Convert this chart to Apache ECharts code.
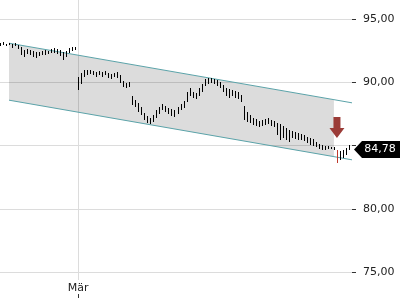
<!DOCTYPE html>
<html><head><meta charset="utf-8">
<script src="https://cdn.jsdelivr.net/npm/echarts@6/dist/echarts.min.js"></script>
<style>html,body{margin:0;padding:0;background:#fff}#c{width:400px;height:300px}</style>
</head><body><div id="c"></div><script>
// bar highs and lows, one bar per slot
const highs = [93.10,93.18,93.03,93.10,93.03,93.10,92.95,92.79,92.55,92.63,
  92.55,92.47,92.39,92.39,92.47,92.55,92.47,92.63,92.71,92.63,
  92.55,92.39,92.47,92.71,92.79,92.79,90.42,90.74,90.97,90.97,
  90.97,90.89,90.82,90.89,90.82,90.89,90.74,90.66,90.74,90.82,
  90.58,90.10,89.95,90.03,88.92,88.60,88.37,88.05,87.58,87.34,
  87.18,87.42,87.81,88.05,88.29,88.13,87.97,87.89,87.81,88.05,
  88.29,88.53,89.24,89.55,89.24,89.16,89.55,89.87,90.26,90.34,
  90.34,90.26,90.18,90.03,89.79,89.55,89.47,89.39,89.32,89.24,
  89.00,88.13,87.66,87.42,87.18,87.10,86.95,87.03,87.10,87.18,
  87.03,86.95,86.79,86.71,86.55,86.39,86.24,86.16,86.08,86.00,
  85.92,85.84,85.68,85.60,85.53,85.29,85.13,85.05,84.97,84.97,
  84.89,84.89,84.66,84.58,84.66,84.81,85.05];
const lows = [92.87,92.95,92.87,92.95,92.71,92.87,92.63,92.16,92.00,92.24,
  92.16,92.00,91.92,92.08,92.16,92.16,92.24,92.32,92.32,92.24,
  92.08,91.76,92.00,92.32,92.47,92.55,89.39,89.87,90.42,90.58,
  90.66,90.58,90.42,90.58,90.42,90.58,90.34,90.26,90.42,90.34,
  89.95,89.63,89.55,89.63,88.21,88.05,87.66,87.42,87.03,86.79,
  86.71,86.87,87.18,87.50,87.81,87.66,87.50,87.34,87.26,87.50,
  87.81,87.97,88.45,88.92,88.76,88.68,88.92,89.24,89.71,89.87,
  89.95,89.87,89.71,89.55,89.24,88.92,88.76,88.92,88.76,88.68,
  88.45,87.03,86.87,86.79,86.63,86.55,86.47,86.55,86.63,86.71,
  86.55,86.47,85.84,85.45,85.60,85.45,85.29,85.60,85.53,85.45,
  85.45,85.37,85.21,85.05,84.97,84.89,84.74,84.66,84.66,84.74,
  84.74,84.66,83.63,83.87,84.02,84.26,84.66];
const lastClose = 84.78;
const redIndex = 112;
const slotCount = 118;
const tickLabels = {26: 'Mär'};
const categories = Array.from({length: slotCount}, (_, i) => tickLabels[i] || '');
const yMin = 70, yMax = 96.5, yStep = 5;
// regression channel endpoints (slot index, value)
const chanIdx = [3, 111, 117];
const chanTop = [93.09, 88.63, 88.38];
const chanBottom = [88.59, 84.13, 83.88];
const chanFillEnd = 1; // fill spans chanIdx[0]..chanIdx[1]
const arrowPos = [112, 86.43];

const FONT = 'DejaVu Sans';
function sparse(idx, vals) {
  const a = new Array(slotCount).fill(null);
  idx.forEach((k, j) => { a[k] = vals[j]; });
  return a;
}

const barData = highs.map((h, i) => [i, lows[i], h]);

const chart = echarts.init(document.getElementById('c'), null, {renderer: 'canvas'});
chart.setOption({
  animation: false,
  backgroundColor: '#fff',
  grid: [
    {left: 0, right: 48, top: 0, height: 335.6, outerBoundsMode: 'none', containLabel: false},
    {left: 0, right: 48, top: 0, bottom: 2, outerBoundsMode: 'none', containLabel: false}
  ],
  xAxis: [
    {gridIndex: 0, type: 'category', data: categories, boundaryGap: false, show: false},
    {gridIndex: 1, type: 'category', data: categories, boundaryGap: false,
      axisLine: {show: false},
      axisTick: {show: true, inside: true, length: 4, interval: (i, v) => v !== '', lineStyle: {color: '#333'}},
      axisLabel: {show: true, inside: true, margin: 4, interval: (i, v) => v !== '', color: '#222',
        fontFamily: FONT, fontSize: 11, backgroundColor: '#fff', padding: [3, 3, 0, 3]},
      splitLine: {show: true, interval: (i, v) => v !== '', lineStyle: {color: '#dcdcdc'}}}
  ],
  yAxis: [
    {gridIndex: 0, type: 'value', position: 'right', min: yMin, max: yMax, interval: yStep,
      axisLine: {show: false},
      axisTick: {show: true, length: 4, lineStyle: {color: '#333'}},
      axisLabel: {margin: 11, color: '#222', fontFamily: FONT, fontSize: 11, showMaxLabel: false,
        formatter: v => (v % yStep === 0 && v !== 85) ? v.toFixed(2).replace('.', ',') : ''},
      splitLine: {show: true, showMaxLine: false, lineStyle: {color: '#dcdcdc'}}},
    {gridIndex: 1, type: 'value', show: false, min: 0, max: 1, splitLine: {show: false}}
  ],
  series: [
    {type: 'custom', xAxisIndex: 0, yAxisIndex: 0, data: [0], silent: true, z: 1,
      renderItem: (params, api) => {
        const pts = [
          api.coord([chanIdx[0], chanTop[0]]),
          api.coord([chanIdx[chanFillEnd], chanTop[chanFillEnd]]),
          api.coord([chanIdx[chanFillEnd], chanBottom[chanFillEnd]]),
          api.coord([chanIdx[0], chanBottom[0]])
        ];
        return {type: 'polygon', shape: {points: pts}, style: {fill: 'rgba(0,0,0,0.137)'}};
      }},
    {type: 'line', xAxisIndex: 0, yAxisIndex: 0, data: sparse(chanIdx, chanTop), connectNulls: true, symbol: 'none',
      lineStyle: {color: '#5ba3a9', width: 1}, z: 3},
    {type: 'line', xAxisIndex: 0, yAxisIndex: 0, data: sparse(chanIdx, chanBottom), connectNulls: true, symbol: 'none',
      lineStyle: {color: '#5ba3a9', width: 1}, z: 3},
    {type: 'custom', xAxisIndex: 0, yAxisIndex: 0, data: barData, silent: true, z: 4,
      encode: {x: 0, y: [1, 2]},
      renderItem: (params, api) => {
        const i = api.value(0);
        const lo = api.coord([i, api.value(1)]);
        const hi = api.coord([i, api.value(2)]);
        const x = Math.round(lo[0]) + 0.5;
        return {type: 'line', shape: {x1: x, y1: Math.round(lo[1]), x2: x, y2: Math.round(hi[1])},
          style: {stroke: i === redIndex ? '#c0392b' : '#000', lineWidth: 1}};
      }},
    {type: 'scatter', xAxisIndex: 0, yAxisIndex: 0, data: [arrowPos], clip: false, z: 5,
      symbol: 'path://M4,0 L11,0 L11,11 L15,11 L7.5,21 L0,11 L4,11 Z', symbolSize: [15, 21],
      itemStyle: {color: '#9b3b37', opacity: 1}},
    {type: 'scatter', xAxisIndex: 0, yAxisIndex: 0, data: [[slotCount - 1, lastClose]], clip: false, z: 10,
      symbol: 'path://M0,8.5 L8,0 L48,0 L48,17 L8,17 Z', symbolSize: [48, 17], symbolOffset: [26, 1],
      itemStyle: {color: '#000', opacity: 1},
      label: {show: true, position: 'inside', offset: [2, 0], color: '#fff', fontFamily: FONT, fontSize: 11,
        formatter: () => lastClose.toFixed(2).replace('.', ',')}}
  ]
});
</script></body></html>
